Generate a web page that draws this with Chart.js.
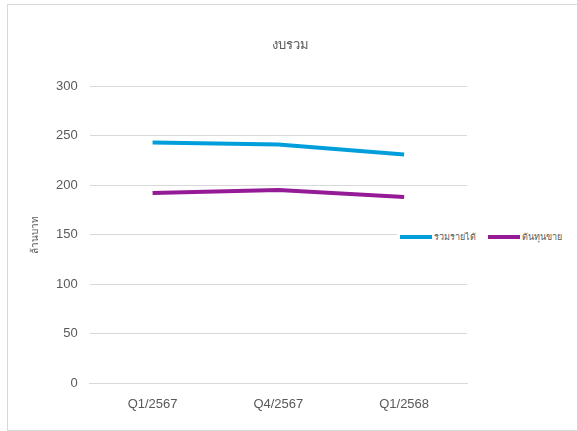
<!DOCTYPE html>
<html>
<head>
<meta charset="utf-8">
<script src="https://cdn.jsdelivr.net/npm/chart.js@4"></script>
<style>
  body { margin: 0; background: #fff; font-family: "Liberation Sans", Arial, sans-serif; }
  #frame {
    position: absolute; left: 7px; top: 4px; width: 575px; height: 425px;
    border-left: 1px solid #d9d9d9; border-top: 1px solid #d9d9d9; border-bottom: 1px solid #d9d9d9;
  }
  #title {
    position: absolute; left: 190px; width: 200px; top: 34px; text-align: center;
    font-size: 13px; color: #595959;
  }
  #legend {
    position: absolute; left: 397px; top: 228px; background: #fff; white-space: nowrap;
    font-size: 9px; color: #595959; display: flex; align-items: center; padding: 2px 3px;
  }
  #legend span.ln { display: inline-block; width: 32px; height: 4px; margin-right: 2px; }
  #legend span.tx { margin-right: 12px; }
</style>
</head>
<body>
<div id="frame"><canvas id="chart"></canvas></div>
<div id="title">งบรวม</div>
<div id="legend"></div>
<script>
// ข้อมูลจากกราฟ (ล้านบาท)
const categories = ['Q1/2567', 'Q4/2567', 'Q1/2568'];
const revenue = [243, 241, 231];      // รวมรายได้
const costOfSales = [192, 195, 188];  // ต้นทุนขาย
const seriesNames = ['รวมรายได้', 'ต้นทุนขาย'];
const seriesColors = ['#009fdb', '#951b96'];
const yTicks = [0, 50, 100, 150, 200, 250, 300];

document.addEventListener('DOMContentLoaded', () => {
    const canvas = document.getElementById('chart');
    canvas.width = 575;
    canvas.height = 425;
    canvas.style.width = '575px';
    canvas.style.height = '425px';

    // legend ทำเป็น html วางทับพื้นที่กราฟแบบ Excel
    const legend = document.getElementById('legend');
    seriesNames.forEach((name, i) => {
        legend.innerHTML += '<span class="ln" style="background:' + seriesColors[i] + '"></span><span class="tx">' + name + '</span>';
    });

    const ctx = canvas.getContext('2d');
    new Chart(ctx, {
        type: 'line',
        data: {
            labels: categories,
            datasets: [
                { label: seriesNames[0], data: revenue, borderColor: seriesColors[0], backgroundColor: seriesColors[0], borderWidth: 4, pointRadius: 0, tension: 0 },
                { label: seriesNames[1], data: costOfSales, borderColor: seriesColors[1], backgroundColor: seriesColors[1], borderWidth: 4, pointRadius: 0, tension: 0 }
            ]
        },
        options: {
            responsive: false,
            animation: false,
            layout: { padding: { left: 17, right: 116, top: 81, bottom: 5 } },
            plugins: {
                legend: { display: false },
                tooltip: { enabled: false }
            },
            scales: {
                x: {
                    offset: true,
                    grid: { display: false, drawTicks: false },
                    border: { display: true, color: '#d9d9d9', width: 1 },
                    ticks: { color: '#595959', font: { size: 13 }, padding: 13 }
                },
                y: {
                    min: 0,
                    max: 300,
                    afterBuildTicks: axis => { axis.ticks = yTicks.map(v => ({ value: v })); },
                    grid: { color: '#d9d9d9', drawTicks: false },
                    border: { display: false },
                    ticks: { color: '#595959', font: { size: 13 }, padding: 12 },
                    title: { display: true, text: 'ล้านบาท', color: '#595959', font: { size: 10 }, padding: { bottom: 3 } }
                }
            }
        }
    });
});
</script>
</body>
</html>
